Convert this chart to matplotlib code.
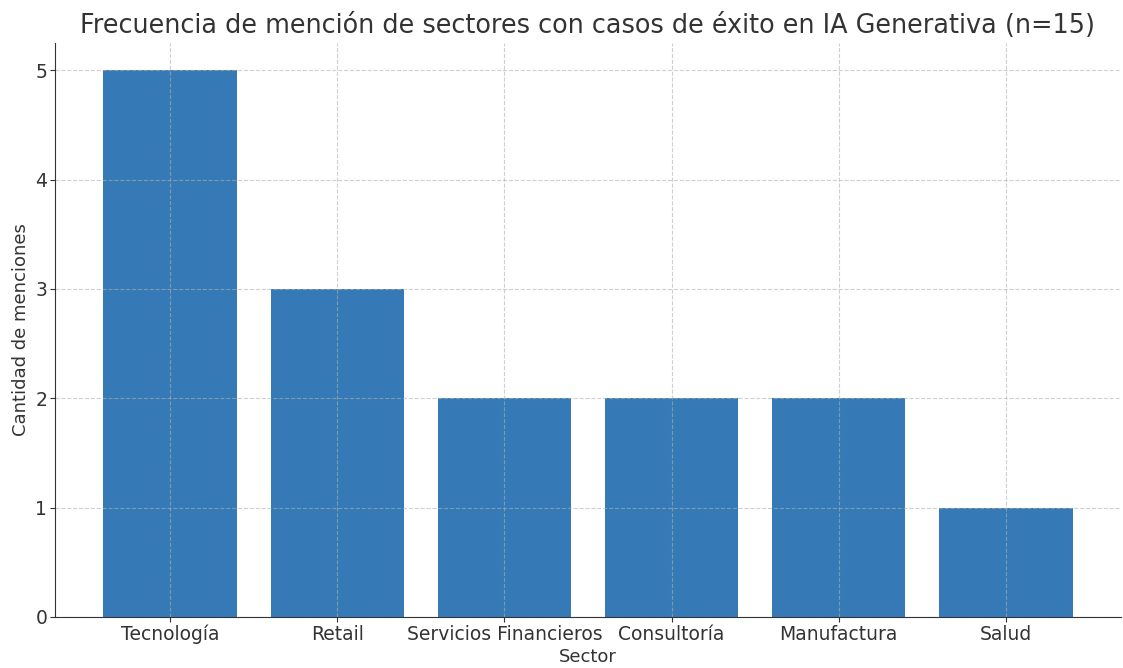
import matplotlib.pyplot as plt

# data
sectores = ["Tecnología", "Retail", "Servicios Financieros", "Consultoría", "Manufactura", "Salud"]
menciones = [5, 3, 2, 2, 2, 1]

plt.rcParams['text.color'] = '#333333'
plt.rcParams['axes.labelcolor'] = '#333333'
plt.rcParams['xtick.color'] = '#333333'
plt.rcParams['ytick.color'] = '#333333'

fig, ax = plt.subplots(figsize=(11.23, 6.68), dpi=100)
fig.subplots_adjust(left=55 / 1123, right=1121 / 1123, top=1 - 43 / 668, bottom=1 - 617 / 668)

ax.bar(sectores, menciones, color='#357ab6', width=0.8)
ax.set_title("Frecuencia de mención de sectores con casos de éxito en IA Generativa (n=15)",
             fontsize=18.4, pad=7)
ax.set_xlabel("Sector", fontsize=13, labelpad=3)
ax.set_ylabel("Cantidad de menciones", fontsize=13, labelpad=4)
ax.tick_params(labelsize=13.5, pad=2)
ax.grid(True, linestyle='--', alpha=0.6)

ax.spines['top'].set_visible(False)
ax.spines['right'].set_visible(False)
ax.spines['left'].set_color('#333333')
ax.spines['bottom'].set_color('#333333')

plt.savefig("out.png", dpi=100)
